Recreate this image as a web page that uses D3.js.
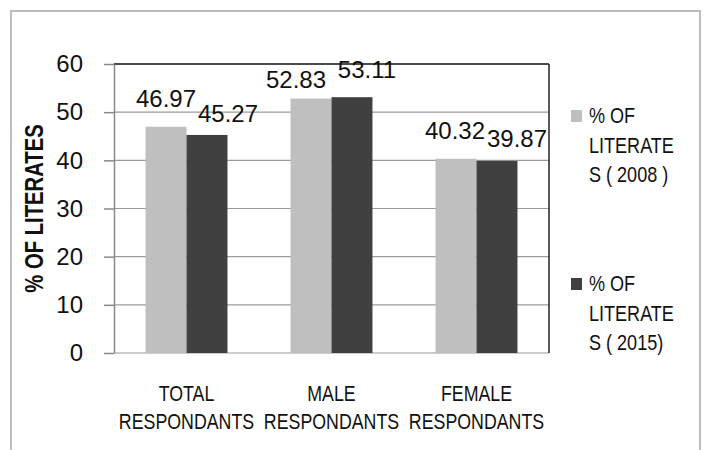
<!DOCTYPE html>
<html>
<head>
<meta charset="utf-8">
<script src="https://cdn.jsdelivr.net/npm/d3@7"></script>
<style>
  body { margin: 0; background: #fff; }
  text { fill: #111; }
</style>
</head>
<body>
<div id="chart"></div>
<script>
// data
const categories = ["TOTAL RESPONDANTS", "MALE RESPONDANTS", "FEMALE RESPONDANTS"];
const series = ["% OF LITERATES ( 2008 )", "% OF LITERATES ( 2015)"];
const values2008 = [46.97, 52.83, 40.32];
const values2015 = [45.27, 53.11, 39.87];
const yTicks = [0, 10, 20, 30, 40, 50, 60];
const legendLines = [
  ["% OF", "LITERATE", "S ( 2008 )"],
  ["% OF", "LITERATE", "S ( 2015)"]
];
const colors = ["#bfbfbf", "#404040"];

// the value labels in the original are pushed around to avoid overlap
const labelNudge = [
  [[0, -20], [21, -13]],
  [[-15, -11], [15, -19]],
  [[-1, -20], [20, -14]]
];

const width = 706, height = 450;
const plot = { left: 114, right: 549, top: 64, bottom: 353 };
const font = "'Liberation Sans', Arial, sans-serif";

// no narrow font installed, so squeeze the normal one
function condense(sel, k) {
  sel.each(function () {
    const w = this.getComputedTextLength();
    d3.select(this)
      .attr("textLength", w * k)
      .attr("lengthAdjust", "spacingAndGlyphs");
  });
}

const svg = d3.select("#chart")
  .append("svg")
  .attr("width", width)
  .attr("height", height);

// outer frame
svg.append("rect")
  .attr("x", 11).attr("y", 11)
  .attr("width", 689).attr("height", 460)
  .attr("fill", "none")
  .attr("stroke", "#bdbdbd")
  .attr("stroke-width", 2);

const x0 = d3.scaleBand()
  .domain(categories)
  .range([plot.left, plot.right]);

const x1 = d3.scaleBand()
  .domain(series)
  .range([0, x0.bandwidth()])
  .paddingInner(0)
  .paddingOuter(0.77);

const y = d3.scaleLinear()
  .domain([0, 60])
  .range([plot.bottom, plot.top]);

// gridlines
svg.append("g")
  .selectAll("line")
  .data(yTicks)
  .join("line")
  .attr("x1", plot.left)
  .attr("x2", plot.right)
  .attr("y1", d => y(d))
  .attr("y2", d => y(d))
  .attr("stroke", d => (d === 60 ? "#111" : "#9a9a9a"))
  .attr("stroke-width", d => (d === 60 ? 1.5 : 1.2));

// right frame line
svg.append("line")
  .attr("x1", plot.right).attr("x2", plot.right)
  .attr("y1", plot.top).attr("y2", plot.bottom)
  .attr("stroke", "#222")
  .attr("stroke-width", 1.5);

// y axis
const yAxis = svg.append("g")
  .attr("transform", `translate(${plot.left},0)`)
  .call(
    d3.axisLeft(y)
      .tickValues(yTicks)
      .tickSizeInner(10)
      .tickSizeOuter(0)
      .tickPadding(21)
  );
yAxis.select(".domain").attr("stroke", "#8a8a8a").attr("stroke-width", 1.5);
yAxis.selectAll(".tick line").attr("stroke", "#8a8a8a").attr("stroke-width", 1.5);
yAxis.selectAll(".tick text")
  .attr("fill", "#111")
  .style("font-family", font)
  .style("font-size", "24px");

// y axis title
svg.append("text")
  .attr("transform", `translate(43,${(plot.top + plot.bottom) / 2}) rotate(-90)`)
  .attr("text-anchor", "middle")
  .style("font-family", font)
  .style("font-weight", "bold")
  .style("font-size", "25px")
  .text("% OF LITERATES")
  .call(condense, 0.81);

// bars
const rows = categories.map((c, i) => ({
  category: c,
  values: [values2008[i], values2015[i]],
  index: i
}));

const group = svg.append("g")
  .selectAll("g")
  .data(rows)
  .join("g")
  .attr("transform", d => `translate(${x0(d.category)},0)`);

group.selectAll("rect")
  .data(d => d.values.map((v, j) => ({ series: series[j], value: v, j })))
  .join("rect")
  .attr("x", d => x1(d.series))
  .attr("width", x1.bandwidth())
  .attr("y", d => y(d.value))
  .attr("height", d => y(0) - y(d.value))
  .attr("fill", d => colors[d.j]);

// value labels
group.selectAll("text.value")
  .data(d => d.values.map((v, j) => ({ series: series[j], value: v, j, i: d.index })))
  .join("text")
  .attr("class", "value")
  .attr("x", d => x1(d.series) + x1.bandwidth() / 2 + labelNudge[d.i][d.j][0])
  .attr("y", d => y(d.value) + labelNudge[d.i][d.j][1])
  .attr("text-anchor", "middle")
  .style("font-family", font)
  .style("font-size", "24px")
  .text(d => d.value.toFixed(2));

// category labels, one text per line, squeezed sideways
const catLines = categories.flatMap(c =>
  c.split(" ").map((w, k) => ({ word: w, cat: c, k }))
);
svg.append("g")
  .selectAll("text")
  .data(catLines)
  .join("text")
  .attr("transform", d =>
    `translate(${x0(d.cat) + x0.bandwidth() / 2},${401 + d.k * 28}) scale(0.79,1)`)
  .attr("text-anchor", "middle")
  .style("font-family", font)
  .style("font-size", "22.5px")
  .text(d => d.word);

// legend
const legendTop = [110, 278];
const legend = svg.append("g")
  .selectAll("g")
  .data(series)
  .join("g")
  .attr("transform", (d, i) => `translate(571,${legendTop[i]})`);

legend.append("rect")
  .attr("width", 11)
  .attr("height", 12)
  .attr("fill", (d, i) => colors[i]);

legend.selectAll("text")
  .data((d, i) => legendLines[i])
  .join("text")
  .attr("x", 18)
  .attr("y", (d, k) => 13 + k * 29.5)
  .style("font-family", font)
  .style("font-size", "22px")
  .text(d => d)
  .call(condense, 0.82);
</script>
</body>
</html>
